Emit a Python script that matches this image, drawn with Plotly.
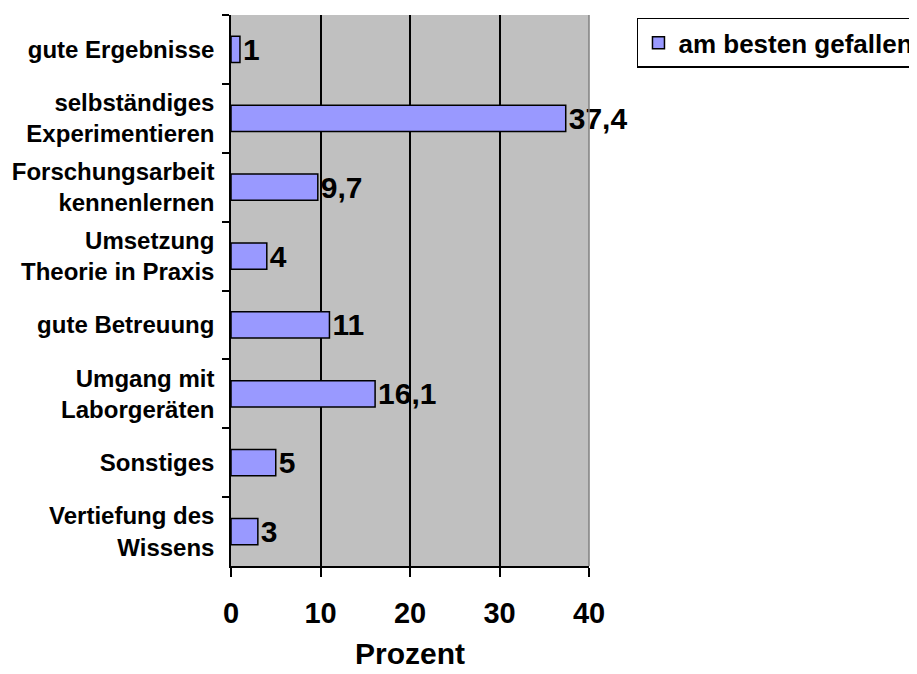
import plotly.graph_objects as go

categories = ["gute Ergebnisse", "selbständiges<br>Experimentieren", "Forschungsarbeit<br>kennenlernen",
              "Umsetzung<br>Theorie in Praxis", "gute Betreuung", "Umgang mit<br>Laborgeräten",
              "Sonstiges", "Vertiefung des<br>Wissens"]
values = [1, 37.4, 9.7, 4, 11, 16.1, 5, 3]
x_ticks = [0, 10, 20, 30, 40]
series_name = "am besten gefallen"

labels = [("%g" % v).replace(".", ",") for v in values]
FONT = "Liberation Sans"

fig = go.Figure()
fig.add_trace(go.Bar(
    y=categories, x=values, orientation="h", name=series_name,
    marker=dict(color="#9999FF", line=dict(color="black", width=1.5)),
    width=0.38,
    text=labels, textposition="outside", cliponaxis=False, constraintext="none",
    textfont=dict(family=FONT, size=30, color="black", weight="bold"),
    showlegend=True,
))

fig.update_layout(
    width=917, height=674,
    margin=dict(l=223, r=336, t=7, b=116, autoexpand=False),
    plot_bgcolor="#C0C0C0", paper_bgcolor="white",
    font=dict(family=FONT, color="black", weight="bold"),
    legend=dict(x=1.134, y=0.995, xanchor="left", yanchor="top",
                bordercolor="black", borderwidth=1.5, bgcolor="white",
                font=dict(size=26, family=FONT, weight="bold"),
                itemwidth=30, tracegroupgap=0),
    shapes=[dict(type="line", xref="x domain", yref="y domain", x0=1, x1=1, y0=0, y1=1,
                 line=dict(color="#808080", width=1.5))],
)
fig.update_xaxes(range=[0, 40], tickvals=x_ticks, showgrid=True, gridcolor="black", gridwidth=1.5,
                 ticks="outside", ticklen=9, tickcolor="black", tickwidth=1.5,
                 showline=True, linecolor="black", linewidth=1.5,
                 tickfont=dict(size=29, family=FONT, weight="bold"),
                 ticklabelstandoff=11,
                 title=dict(text="Prozent", font=dict(size=30, family=FONT, weight="bold"), standoff=15),
                 zeroline=False, fixedrange=True)
fig.update_yaxes(autorange="reversed", type="category", ticks="outside", tickson="boundaries",
                 ticklen=7, tickcolor="black", tickwidth=1.5,
                 showline=True, linecolor="black", linewidth=1.5, showgrid=False,
                 tickfont=dict(size=24, family=FONT, weight="bold"),
                 ticklabelstandoff=10)

fig.write_html("out.html")
